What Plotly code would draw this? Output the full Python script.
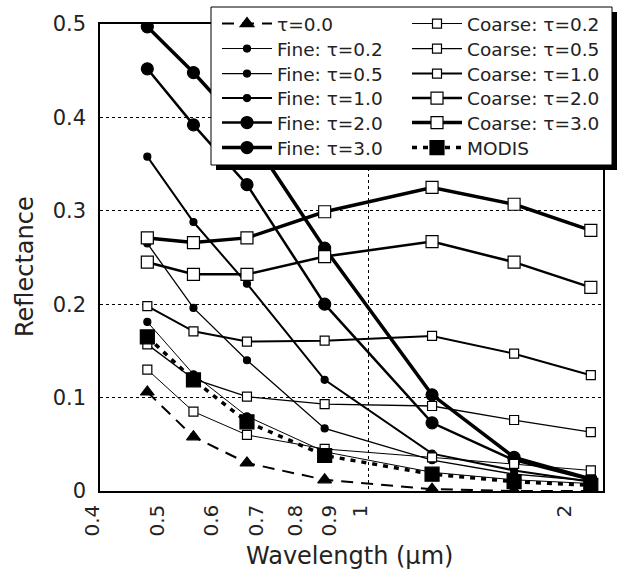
import plotly.graph_objects as go

wavelength = [0.47, 0.55, 0.66, 0.86, 1.24, 1.64, 2.13]

tau0 = [0.106, 0.058, 0.030, 0.012, 0.002, 0.0, 0.0]
fine_02 = [0.181, 0.125, 0.080, 0.042, 0.020, 0.012, 0.008]
fine_05 = [0.265, 0.196, 0.140, 0.067, 0.033, 0.018, 0.011]
fine_10 = [0.358, 0.288, 0.222, 0.119, 0.040, 0.022, 0.010]
fine_20 = [0.452, 0.392, 0.328, 0.200, 0.073, 0.033, 0.012]
fine_30 = [0.497, 0.448, 0.385, 0.260, 0.103, 0.036, 0.013]
coarse_02 = [0.130, 0.085, 0.060, 0.045, 0.036, 0.029, 0.022]
coarse_05 = [0.157, 0.120, 0.101, 0.093, 0.091, 0.076, 0.063]
coarse_10 = [0.198, 0.171, 0.160, 0.161, 0.166, 0.147, 0.124]
coarse_20 = [0.245, 0.232, 0.232, 0.251, 0.267, 0.245, 0.218]
coarse_30 = [0.271, 0.266, 0.271, 0.299, 0.325, 0.307, 0.279]
modis = [0.165, 0.119, 0.074, 0.038, 0.018, 0.010, 0.006]

x_tick_vals = [0.4, 0.5, 0.6, 0.7, 0.8, 0.9, 1, 2]
x_tick_text = ["0.4", "0.5", "0.6", "0.7", "0.8", "0.9", "1", "2"]
y_tick_vals = [0, 0.1, 0.2, 0.3, 0.4, 0.5]
y_tick_text = ["0", "0.1", "0.2", "0.3", "0.4", "0.5"]

FONT = "DejaVu Sans, Verdana, sans-serif"
TXT = "#222222"

x0, x1 = 100, 603
y0, y1 = 24, 491
W, H = 619, 573
pw, ph = x1 - x0, y1 - y0

def px(x):
    return (x - x0) / pw

def py(y):
    return (y1 - y) / ph

fig = go.Figure()
legend_layouts = {}
legend_font = dict(family=FONT, size=18.5, color=TXT)
row_centers = [24, 49, 74, 98.5, 123, 148]
col_left = [217, 407]
count = [0]

def add(name, y, lw, dash, symbol, msize, mfill, col, row):
    count[0] += 1
    key = "legend" if count[0] == 1 else "legend%d" % count[0]
    fig.add_trace(go.Scatter(
        x=wavelength, y=y, name=name, mode="lines+markers",
        line=dict(color="black", width=lw, dash=dash),
        marker=dict(symbol=symbol, size=msize, color=mfill,
                    line=dict(color="black", width=1.2)),
        legend=key,
    ))
    legend_layouts[key] = dict(
        x=px(col_left[col]), y=py(row_centers[row]),
        xanchor="left", yanchor="middle",
        bgcolor="rgba(0,0,0,0)", borderwidth=0, font=legend_font,
        itemwidth=50)

add("τ=0.0", tau0, 2, "12px,8px", "triangle-up", 12, "black", 0, 0)
add("Fine: τ=0.2", fine_02, 1, "solid", "circle", 7, "black", 0, 1)
add("Fine: τ=0.5", fine_05, 1.3, "solid", "circle", 7, "black", 0, 2)
add("Fine: τ=1.0", fine_10, 2, "solid", "circle", 7, "black", 0, 3)
add("Fine: τ=2.0", fine_20, 2.5, "solid", "circle", 12, "black", 0, 4)
add("Fine: τ=3.0", fine_30, 3.5, "solid", "circle", 12, "black", 0, 5)
add("Coarse: τ=0.2", coarse_02, 1, "solid", "square", 9, "white", 1, 0)
add("Coarse: τ=0.5", coarse_05, 1.3, "solid", "square", 9, "white", 1, 1)
add("Coarse: τ=1.0", coarse_10, 2, "solid", "square", 9, "white", 1, 2)
add("Coarse: τ=2.0", coarse_20, 2.5, "solid", "square", 12, "white", 1, 3)
add("Coarse: τ=3.0", coarse_30, 3.5, "solid", "square", 12, "white", 1, 4)
add("MODIS", modis, 3.5, "5px,6px", "square", 14, "black", 1, 5)

# invisible trace on overlaying axis to host the x=1 gridline
fig.add_trace(go.Scatter(x=[1], y=[0], xaxis="x2", mode="markers",
                         marker=dict(opacity=0), showlegend=False, hoverinfo="skip"))

fig.update_layout(
    width=W, height=H,
    margin=dict(l=x0, r=W - x1, t=y0, b=H - y1, pad=0, autoexpand=False),
    paper_bgcolor="white", plot_bgcolor="white",
    font=dict(family=FONT, color=TXT),
    xaxis=dict(type="log", range=[-0.39794, 0.3464],
               tickvals=x_tick_vals, ticktext=x_tick_text, tickangle=-90,
               tickfont=dict(size=20, family=FONT, color=TXT),
               showgrid=False, zeroline=False, ticks="",
               showline=True, linecolor="black", linewidth=1.5, mirror=True,
               ticklabelstandoff=4, ticklabelshift=-8, automargin=False),
    xaxis2=dict(type="log", range=[-0.39794, 0.3464], overlaying="x",
                tickvals=[1], showticklabels=False, showgrid=True,
                gridcolor="black", griddash="dot", gridwidth=1,
                zeroline=False, ticks="", showline=False),
    yaxis=dict(range=[0, 0.5], tickvals=y_tick_vals, ticktext=y_tick_text,
               tickfont=dict(size=21, family=FONT, color=TXT),
               showgrid=True, gridcolor="black", griddash="dot", gridwidth=1,
               zeroline=False, ticks="",
               showline=True, linecolor="black", linewidth=1.5, mirror=True,
               ticklabelstandoff=8, automargin=False),
    shapes=[
        dict(type="rect", xref="paper", yref="paper",
             x0=px(216), x1=px(617), y0=py(170), y1=py(12),
             fillcolor="black", line=dict(width=0), layer="above"),
        dict(type="rect", xref="paper", yref="paper",
             x0=px(211), x1=px(612), y0=py(165), y1=py(7),
             fillcolor="white", line=dict(color="black", width=1), layer="above"),
    ],
    annotations=[
        dict(text="Wavelength (μm)", xref="paper", yref="paper",
             x=px(349), y=py(556), xanchor="center", yanchor="middle",
             showarrow=False, font=dict(size=24, family=FONT, color=TXT)),
        dict(text="Reflectance", xref="paper", yref="paper",
             x=px(25), y=py(267), xanchor="center", yanchor="middle",
             showarrow=False, textangle=-90,
             font=dict(size=24, family=FONT, color=TXT)),
    ],
)
fig.update_layout(**legend_layouts)

fig.write_html("out.html")
